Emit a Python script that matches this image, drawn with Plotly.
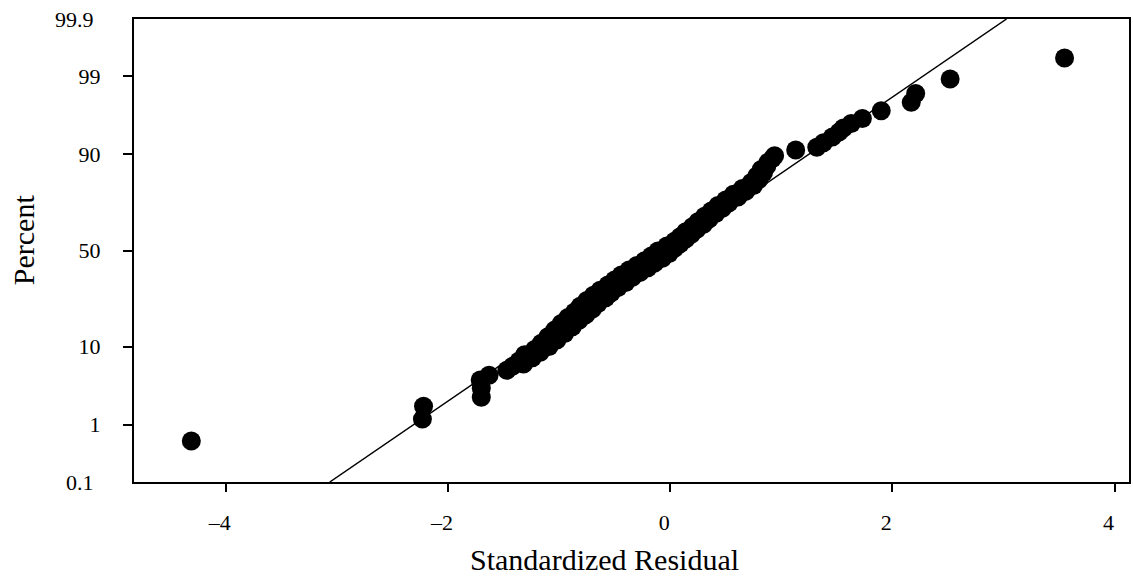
import plotly.graph_objects as go
from statistics import NormalDist

# Standardized residuals (x) and their plotted cumulative percent (y)
residuals = [
    -4.31, -2.23, -2.22, -1.70, -1.70, -1.71, -1.63, -1.47, -1.42, -1.32,
    -1.36, -1.24, -1.31, -1.17, -1.22, -1.09, -1.16, -1.02, -1.10, -0.95,
    -1.04, -0.88, -0.98, -0.82, -0.92, -0.76, -0.86, -0.70, -0.81, -0.65,
    -0.75, -0.58, -0.69, -0.53, -0.63, -0.47, -0.56, -0.40, -0.50, -0.34,
    -0.44, -0.27, -0.37, -0.20, -0.30, -0.14, -0.23, -0.07, -0.17, -0.01,
    -0.11, 0.04, -0.03, 0.09, 0.04, 0.14, 0.09, 0.19, 0.14, 0.24,
    0.20, 0.30, 0.25, 0.35, 0.31, 0.41, 0.37, 0.47, 0.43, 0.53,
    0.50, 0.61, 0.57, 0.68, 0.65, 0.75, 0.73, 0.80, 0.78, 0.84,
    0.82, 0.87, 0.88, 0.92, 0.94, 1.13, 1.32, 1.38, 1.46, 1.52,
    1.56, 1.63, 1.73, 1.90, 2.17, 2.21, 2.52, 3.55,
]
percent = [
    0.55, 1.22, 1.88, 2.5, 3.3, 4.2, 4.8, 5.5, 6.1, 6.5,
    7.0, 7.6, 8.2, 8.7, 9.3, 10.0, 10.8, 11.6, 12.5, 13.4,
    14.4, 15.4, 16.5, 17.6, 18.6, 19.5, 20.6, 21.7, 22.8, 24.0,
    25.2, 26.4, 27.5, 28.6, 29.8, 31.0, 32.3, 33.5, 34.7, 36.0,
    37.2, 38.5, 39.7, 40.9, 42.1, 43.3, 44.6, 45.9, 47.1, 48.4,
    49.8, 51.2, 52.4, 53.6, 54.9, 56.1, 57.3, 58.6, 59.9, 61.2,
    62.5, 63.7, 65.0, 66.3, 67.6, 68.9, 70.1, 71.4, 72.6, 73.8,
    75.0, 76.2, 77.4, 78.5, 79.6, 80.7, 81.8, 82.9, 84.0, 85.0,
    86.0, 87.0, 88.0, 89.0, 89.7, 91.0, 91.6, 92.5, 93.5, 94.3,
    94.9, 95.5, 96.1, 96.9, 97.6, 98.2, 98.9, 99.49,
]

# Fitted normal reference line (endpoints)
fit_x = [-3.064, 3.028]
fit_percent = [0.1, 99.9]

# Axis ticks
x_ticks = [-4, -2, 0, 2, 4]
x_tick_labels = ["–4", "–2", "0", "2", "4"]
tick_percent = [1, 10, 50, 90, 99]
tick_labels = ["1", "10", "50", "90", "99"]
edge_percent = [0.1, 99.9]
edge_labels = ["0.1", "99.9"]

nd = NormalDist()
def z(p):
    return nd.inv_cdf(p / 100.0)

FONT = "Liberation Serif"

fig = go.Figure()
fig.add_trace(go.Scatter(
    x=fit_x, y=[z(p) for p in fit_percent], mode="lines",
    line=dict(color="black", width=1.5), showlegend=False, hoverinfo="skip",
))
fig.add_trace(go.Scatter(
    x=residuals, y=[z(p) for p in percent], mode="markers",
    marker=dict(color="black", size=19, line=dict(width=0)), showlegend=False,
))

zmax = z(99.9)
fig.update_layout(
    width=1133, height=578,
    margin=dict(l=134, r=2, t=19, b=96),
    paper_bgcolor="white", plot_bgcolor="white",
    font=dict(family=FONT, color="black", size=22),
    xaxis=dict(
        range=[-4.826, 4.13], tickvals=x_ticks, ticktext=x_tick_labels,
        showgrid=False, zeroline=False, showline=True, linecolor="black",
        linewidth=2, mirror=True, ticks="outside", ticklen=8, tickwidth=2,
        tickcolor="black", tickfont=dict(family=FONT, size=22),
        ticklabelstandoff=12, ticklabelshift=-6,
    ),
    yaxis=dict(
        range=[-zmax, zmax], tickvals=[z(p) for p in tick_percent],
        ticktext=tick_labels,
        showgrid=False, zeroline=False, showline=True, linecolor="black",
        linewidth=2, mirror=True, ticks="outside", ticklen=9, tickwidth=2,
        tickcolor="black", tickfont=dict(family=FONT, size=22),
        ticklabelstandoff=18,
    ),
)

for p, lab in zip(edge_percent, edge_labels):
    fig.add_annotation(
        x=0, xref="paper", xanchor="right", xshift=-38,
        y=z(p), yref="y", yanchor="middle",
        text=lab, showarrow=False, font=dict(family=FONT, size=22),
    )

fig.add_annotation(
    x=(605 - 134) / (1131 - 134), xref="paper",
    y=-(559 - 482) / (482 - 19), yref="paper", yanchor="middle",
    text="Standardized Residual", showarrow=False,
    font=dict(family=FONT, size=30),
)
fig.add_annotation(
    x=-(134 - 23) / (1131 - 134), xref="paper", y=(482 - 240) / (482 - 19),
    yref="paper", text="Percent", textangle=-90, showarrow=False,
    xanchor="center", yanchor="middle", font=dict(family=FONT, size=30),
)

fig.write_html("out.html")
